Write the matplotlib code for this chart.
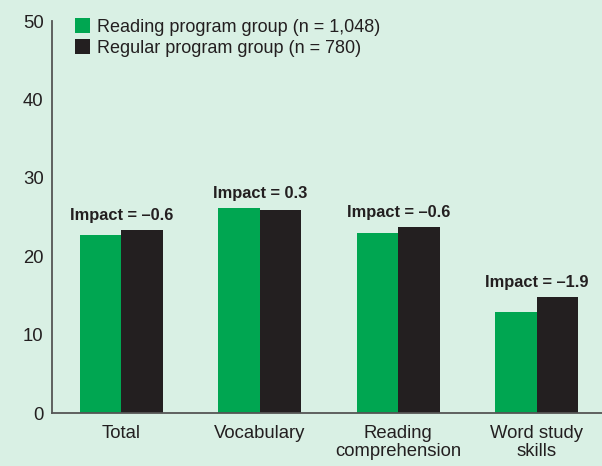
import numpy as np
import matplotlib.pyplot as plt

categories = ["Total", "Vocabulary", "Reading\ncomprehension", "Word study\nskills"]
reading_prog = [22.7, 26.2, 23.0, 12.9]
regular_prog = [23.3, 25.9, 23.7, 14.8]
impacts = ["Impact = \u20130.6", "Impact = 0.3", "Impact = \u20130.6", "Impact = \u20131.9"]
legend_labels = ["Reading program group (n = 1,048)", "Regular program group (n = 780)"]

bg = "#d9f0e4"
green = "#00a651"
dark = "#231f20"

plt.rcParams['font.family'] = ['Liberation Sans', 'DejaVu Sans']

fig = plt.figure(figsize=(6.02, 4.66), dpi=100, facecolor=bg)
ax = fig.add_axes([52/602, 53/466, 550/602, 392/466], facecolor=bg)

x = np.arange(len(categories))
w = 0.3
ax.bar(x - w/2, reading_prog, w, color=green, label=legend_labels[0])
ax.bar(x + w/2, regular_prog, w, color=dark, label=legend_labels[1])

for xi, r, g, lab in zip(x, reading_prog, regular_prog, impacts):
    ax.annotate(lab, (xi, max(r, g)), xytext=(0, 5), textcoords="offset points",
                ha="center", va="bottom", fontsize=11.8, fontweight="bold", color=dark)

ax.set_xlim(-0.5, 3.47)
ax.set_ylim(0, 50)
ax.set_yticks([0, 10, 20, 30, 40, 50])
ax.set_xticks(x)
ax.set_xticklabels(categories, fontsize=13.5, color=dark, linespacing=1.0)
ax.tick_params(axis="both", length=0, labelsize=13.3, colors=dark)
ax.tick_params(axis="y", pad=6)
ax.tick_params(axis="x", pad=9)

for s in ["top", "right"]:
    ax.spines[s].set_visible(False)
for s in ["left", "bottom"]:
    ax.spines[s].set_color("#555555")
    ax.spines[s].set_linewidth(1.3)

leg = ax.legend(loc="upper left", bbox_to_anchor=(0.028, 1.025), frameon=False,
                fontsize=13, handlelength=0.85, handleheight=0.85,
                handletextpad=0.4, labelspacing=0.2, borderaxespad=0)
for t in leg.get_texts():
    t.set_color(dark)

fig.savefig("out.png", dpi=100, facecolor=bg)
